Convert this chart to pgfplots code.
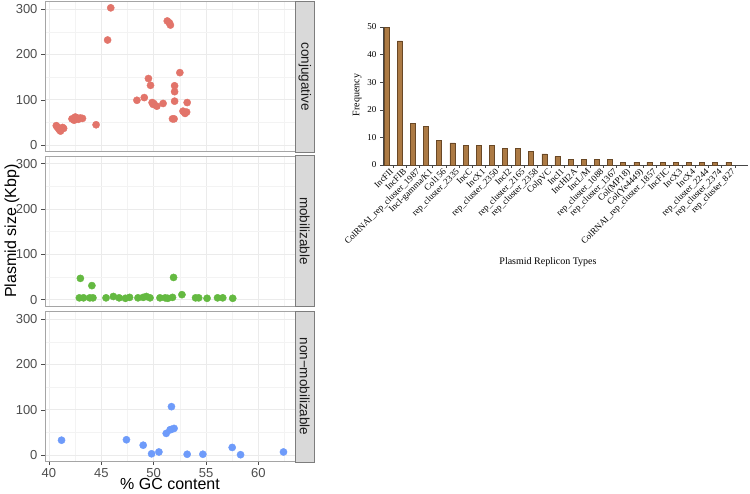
\documentclass[border=0pt]{standalone}
\usepackage{pgfplots}
\pgfplotsset{compat=1.18}
\usepackage{fontspec}
\setmainfont{Liberation Sans}
\newfontfamily\arialf{Liberation Sans}
\newfontfamily\tnr{Liberation Serif}
\definecolor{conj}{RGB}{226,116,106}
\definecolor{mobc}{RGB}{100,185,65}
\definecolor{nonm}{RGB}{110,155,250}
\definecolor{barf}{RGB}{172,122,68}
\definecolor{bard}{RGB}{105,72,38}
\definecolor{tickc}{RGB}{77,77,77}
\definecolor{gmaj}{RGB}{235,235,235}
\definecolor{gmin}{RGB}{243,243,243}
\definecolor{pborder}{RGB}{165,165,165}
\definecolor{sfill}{RGB}{217,217,217}
\definecolor{sborder}{RGB}{125,125,125}
\definecolor{stext}{RGB}{26,26,26}
\definecolor{baxis}{RGB}{70,70,70}

\pgfplotstableread{
x y
45.9 303
45.6 232
51.3 274
51.5 270
51.6 265
52.5 160
49.5 147
49.7 132
52.0 131
52.0 118
52.0 97
48.4 99
49.1 105
49.85 94
50.0 92
50.3 86
50.9 92
49.95 90
53.2 94
52.8 75
53.0 70
53.15 73
52.95 72
51.8 58
51.95 58
44.5 45
42.2 58
42.4 55
42.6 61
42.8 57
43.0 60
43.2 59
42.5 62
40.7 43
40.8 40
40.9 37
41.0 34
41.1 31
41.2 36
41.3 39
41.4 37
}\conjdata

\pgfplotstableread{
x y
43.0 47
44.1 31
51.9 49
52.7 11
42.9 4
43.3 4
43.9 4
44.2 4
45.45 4
46.15 7
46.7 4
47.3 3
47.7 5
48.5 4
49.0 5
49.3 7
49.65 4
50.6 4
51.1 4
51.35 3
51.8 5
54.0 4
54.3 4
55.1 3
56.1 4
56.6 4
57.55 3
}\mobdata

\pgfplotstableread{
x y
41.2 33
47.4 34
49.0 22
49.8 3
50.5 7
51.2 48
51.57 56
51.95 59
51.7 57
51.7 107
53.2 2
54.7 2
57.5 17
58.3 1
62.4 7
}\nonmdata

\pgfplotstableread{
x y
1 50
2 45
3 15
4 14
5 9
6 8
7 7
8 7
9 7
10 6
11 6
12 5
13 4
14 3
15 2
16 2
17 2
18 2
19 1
20 1
21 1
22 1
23 1
24 1
25 1
26 1
27 1
}\bardata

\pgfplotsset{
  facet/.style={
    scale only axis, width=250pt, height=150pt,
    xmin=39.62, xmax=63.5, ymin=-14, ymax=317,
    xtick={40,45,50,55,60}, ytick={0,100,200,300},
    minor xtick={42.5,47.5,52.5,57.5,62.5}, minor ytick={50,150,250},
    grid=both,
    major grid style={draw=gmaj, line width=0.7pt},
    minor grid style={draw=gmin, line width=0.4pt},
    axis line style={draw=pborder, line width=0.8pt},
    tick pos=left, tick align=outside,
    major tick length=3.5pt, minor tick length=0pt,
    tick style={draw=tickc, line width=0.6pt},
    ticklabel style={font=\arialf\fontsize{13}{13}\selectfont, text=tickc},
    /pgf/number format/assume math mode=true,
    yticklabel style={xshift=-0.5pt},
    clip=false,
  },
  pts/.style={only marks, mark=*, mark size=3.6pt, draw=#1, fill=#1},
}

\begin{document}
\begin{tikzpicture}
\useasboundingbox (0,0) rectangle (750pt,493pt);

% ---- panel 1 ----
\begin{axis}[facet, name=p1, at={(45pt,491.5pt)}, anchor=north west,
  xticklabels={}, xtick style={draw=none}]
\addplot[pts=conj] table {\conjdata};
\end{axis}
\draw[fill=sfill, draw=sborder, line width=0.9pt]
  ([xshift=0.5pt,yshift=-0.5pt]p1.south east) rectangle ([xshift=19pt,yshift=0.5pt]p1.north east);
\node[rotate=-90, font=\arialf\fontsize{13.5}{13.5}\selectfont, text=stext] at ([xshift=9.8pt]p1.east) {conjugative};

% ---- panel 2 ----
\begin{axis}[facet, name=p2, at={(45pt,337pt)}, anchor=north west,
  xticklabels={}, xtick style={draw=none},
  ylabel={Plasmid size (Kbp)},
  ylabel style={at={(axis description cs:-0.132,0.5)}, anchor=center, rotate=0,
    font=\arialf\fontsize{16}{16}\selectfont}]
\addplot[pts=mobc] table {\mobdata};
\end{axis}
\draw[fill=sfill, draw=sborder, line width=0.9pt]
  ([xshift=0.5pt,yshift=-0.5pt]p2.south east) rectangle ([xshift=19pt,yshift=0.5pt]p2.north east);
\node[rotate=-90, font=\arialf\fontsize{13.5}{13.5}\selectfont, text=stext] at ([xshift=9.8pt]p2.east) {mobilizable};

% ---- panel 3 ----
\begin{axis}[facet, name=p3, at={(45pt,181.5pt)}, anchor=north west,
  xlabel={\% GC content},
  xlabel style={at={(axis description cs:0.5,-0.152)}, anchor=center,
    font=\arialf\fontsize{16}{16}\selectfont}]
\addplot[pts=nonm] table {\nonmdata};
\end{axis}
\draw[fill=sfill, draw=sborder, line width=0.9pt]
  ([xshift=0.5pt,yshift=-0.5pt]p3.south east) rectangle ([xshift=19pt,yshift=0.5pt]p3.north east);
\node[rotate=-90, font=\arialf\fontsize{13.5}{13.5}\selectfont, text=stext] at ([xshift=9.8pt]p3.east) {non−mobilizable};

% ---- bar chart ----
\begin{axis}[name=bar, at={(383pt,328pt)}, anchor=south west,
  scale only axis, width=365pt, height=138pt,
  xmin=0.72, xmax=28.5, ymin=0, ymax=50,
  axis lines=left, axis line style={-, draw=baxis, line width=0.7pt},
  ytick={0,10,20,30,40,50},
  xtick={1.5,2.5,...,27.5}, xticklabels={},
  extra x ticks={1,2,...,27},
  extra x tick labels={IncFII,IncFIB,{ColRNAI\_rep\_cluster\_1987},{IncI-gamma/K1},Col156,{rep\_cluster\_2335},IncC,IncX1,{rep\_cluster\_2350},IncI2,{rep\_cluster\_2165},{rep\_cluster\_2358},ColpVC,IncI1,IncHI2A,{IncL/M},{rep\_cluster\_1088},{rep\_cluster\_1367},{Col(MP18)},{Col(Ye4449)},{ColRNAI\_rep\_cluster\_1857},IncFIC,IncX3,IncX4,{rep\_cluster\_2244},{rep\_cluster\_2374},{rep\_cluster\_827}},
  extra x tick style={major tick length=0pt,
    xticklabel style={rotate=45, anchor=north east, inner sep=1pt, xshift=1pt, yshift=-3pt,
      font=\tnr\fontsize{9}{9}\selectfont, text=black}},
  tick align=outside, major tick length=3pt,
  tick style={draw=baxis, line width=0.6pt},
  yticklabel style={font=\tnr\fontsize{9}{9}\selectfont, text=black},
  /pgf/number format/assume math mode=true,
  ylabel={Frequency},
  ylabel style={at={(axis description cs:-0.071,0.507)}, anchor=center,
    font=\tnr\fontsize{10}{10}\selectfont},
  xlabel={Plasmid Replicon Types},
  xlabel style={at={(axis description cs:0.452,-0.703)}, anchor=center,
    font=\tnr\fontsize{10}{10}\selectfont},
  ybar, bar width=5pt, clip=false]
\addplot[ybar, fill=barf, draw=bard, line width=0.5pt] table {\bardata};
\end{axis}
\end{tikzpicture}
\end{document}
